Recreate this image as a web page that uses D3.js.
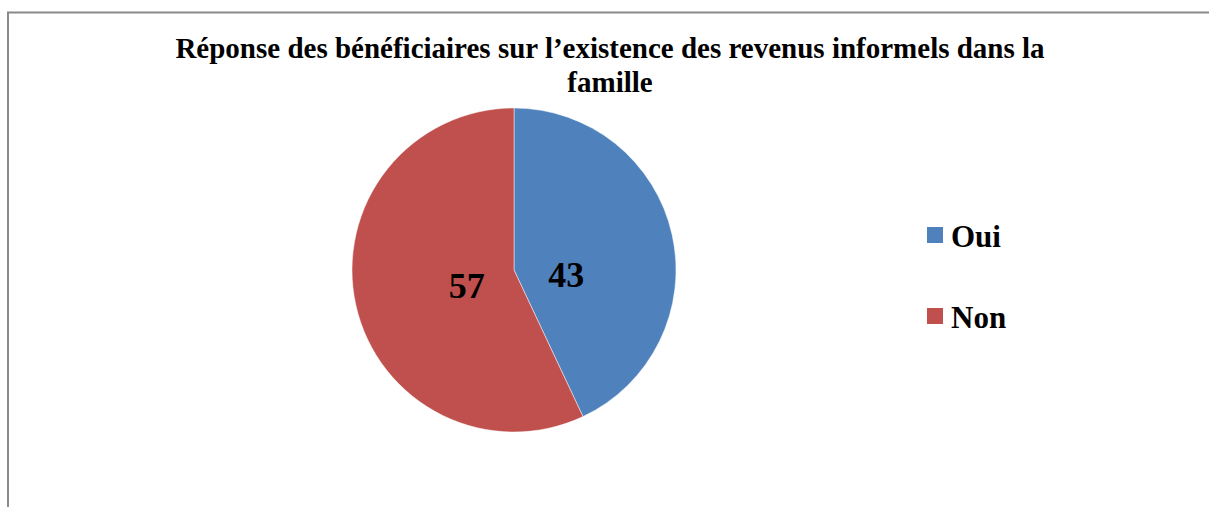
<!DOCTYPE html>
<html>
<head>
<meta charset="utf-8">
<script src="https://cdn.jsdelivr.net/npm/d3@7"></script>
<style>
  body { margin: 0; background: #fff; }
  svg text { font-family: "Liberation Serif", "Times New Roman", serif; font-weight: bold; }
</style>
</head>
<body>
<div id="graphic"></div>
<script>
var categories = ["Oui", "Non"];
var values = [43, 57];
var colours = ["#4F81BD", "#C0504D"];
var titleLines = ["Réponse des bénéficiaires sur l’existence des revenus informels dans la", "famille"];

var width = 1209, height = 507;
var cx = 514, cy = 270, radius = 162;

var svg = d3.select("#graphic").append("svg")
  .attr("width", width)
  .attr("height", height);

// chart frame (only top and left edges show)
svg.append("path")
  .attr("d", "M8,507 L8,12.5 L1209,12.5")
  .attr("fill", "none")
  .attr("stroke", "#8a8a8a")
  .attr("stroke-width", 2);

// title
svg.append("text")
  .attr("text-anchor", "middle")
  .style("font-size", "29px")
  .selectAll("tspan")
  .data(titleLines)
  .join("tspan")
  .attr("x", 610)
  .attr("y", (d, i) => 58 + i * 34)
  .text(d => d);

var pie = d3.pie().sort(null).value(d => d.value);
var data = d3.zip(categories, values).map(d => ({ name: d[0], value: d[1] }));
var arcs = pie(data);

var arc = d3.arc().innerRadius(0).outerRadius(radius);
var labelArc = d3.arc().innerRadius(0).outerRadius(102);

var g = svg.append("g").attr("transform", "translate(" + cx + "," + cy + ")");

g.selectAll("path.slice")
  .data(arcs)
  .join("path")
  .attr("class", "slice")
  .attr("d", arc)
  .attr("fill", (d, i) => colours[i])
  .attr("stroke", "#ffffff")
  .attr("stroke-opacity", 0.6)
  .attr("stroke-width", 0.8);

g.selectAll("text.label")
  .data(arcs)
  .join("text")
  .attr("class", "label")
  .attr("text-anchor", "middle")
  .style("font-size", "36px")
  .attr("x", d => labelArc.centroid(d)[0] + 2.5)
  .attr("y", d => labelArc.centroid(d)[1] * 0.5 + 22.5)
  .text(d => d.value);

// legend
var colour = d3.scaleOrdinal().domain(categories).range(colours);
var ly = d3.scalePoint().domain(categories).range([235, 316]);

var legend = svg.selectAll("g.legend")
  .data(categories)
  .join("g")
  .attr("class", "legend")
  .attr("transform", d => "translate(927," + ly(d) + ")");

legend.append("rect")
  .attr("x", 0).attr("y", -8)
  .attr("width", 16).attr("height", 16)
  .attr("fill", d => colour(d));

legend.append("text")
  .attr("x", 24)
  .attr("y", 12)
  .style("font-size", "31px")
  .text(d => d);
</script>
</body>
</html>
